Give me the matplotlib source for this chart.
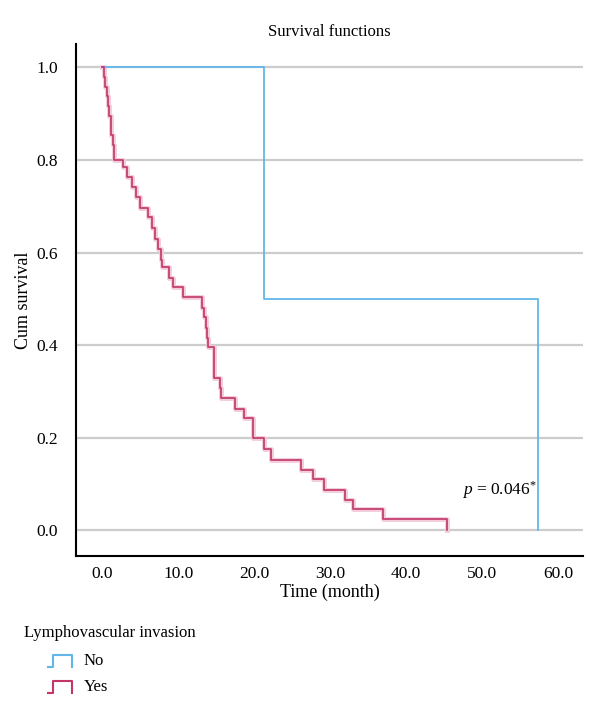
import matplotlib
matplotlib.use("Agg")
import matplotlib.pyplot as plt
from matplotlib.lines import Line2D

plt.rcParams['font.family'] = ['Liberation Serif', 'DejaVu Serif']
plt.rcParams['mathtext.fontset'] = 'custom'
plt.rcParams['mathtext.rm'] = 'Liberation Serif'
plt.rcParams['mathtext.it'] = 'Liberation Serif:italic'

# Kaplan-Meier steps (time in months, cum survival after the event)
no_times = [0.0, 21.3, 57.4]
no_surv = [1.0, 0.5, 0.0]

yes_times = [0.0, 0.2, 0.4, 0.6, 0.8, 0.9, 1.1, 1.2, 1.4, 1.5,
             2.8, 3.3, 3.9, 4.5, 5.0, 6.0, 6.6, 7.0, 7.4, 7.7,
             7.9, 8.8, 9.3, 10.6, 13.1, 13.4, 13.6, 13.8, 13.9, 14.7,
             15.5, 15.7, 17.5, 18.7, 19.8, 19.9, 21.3, 22.2, 26.1, 27.7,
             29.2, 31.9, 33.0, 36.9, 45.4]
yes_surv = [1.0, 0.979, 0.958, 0.938, 0.917, 0.896, 0.875, 0.854, 0.833, 0.80,
            0.785, 0.763, 0.741, 0.72, 0.697, 0.677, 0.654, 0.63, 0.607, 0.585,
            0.568, 0.546, 0.525, 0.503, 0.48, 0.46, 0.437, 0.415, 0.395, 0.328,
            0.307, 0.285, 0.263, 0.242, 0.221, 0.20, 0.175, 0.151, 0.131, 0.11,
            0.088, 0.066, 0.045, 0.024, 0.0]

x_ticks = [0, 10, 20, 30, 40, 50, 60]
y_ticks = [0.0, 0.2, 0.4, 0.6, 0.8, 1.0]

blue = '#62b6ea'
pink = '#c23669'
pink_light = '#f3cbd9'

fig = plt.figure(figsize=(6, 7.14), dpi=100)
ax = fig.add_axes([0.127, 0.221, 0.845, 0.717])

for y in y_ticks:
    ax.axhline(y, color='#cccccc', lw=1.6, zorder=0)

ax.step(no_times, no_surv, where='post', color=blue, lw=1.3, zorder=3)
ax.step(yes_times, yes_surv, where='post', color=pink_light, lw=3.5, zorder=2)
ax.step(yes_times, yes_surv, where='post', color=pink, lw=1.2, zorder=3)

ax.set_xlim(-3.42, 63.3)
ax.set_ylim(-0.056, 1.05)
ax.set_xticks(x_ticks)
ax.set_xticklabels(['%.1f' % v for v in x_ticks])
ax.set_yticks(y_ticks)
ax.set_yticklabels(['%.1f' % v for v in y_ticks])
ax.tick_params(length=0, labelsize=12.5)
ax.tick_params(axis='x', pad=7)
ax.tick_params(axis='y', pad=13)

for s in ['top', 'right']:
    ax.spines[s].set_visible(False)
for s in ['left', 'bottom']:
    ax.spines[s].set_linewidth(1.5)

ax.set_title('Survival functions', fontsize=12, pad=6)
ax.set_xlabel('Time (month)', fontsize=13, labelpad=1)
ax.set_ylabel('Cum survival', fontsize=13)
ax.yaxis.set_label_coords(-0.087, 0.5)

ax.text(47.3, 0.086, r'$p$ = 0.046$^{*}$', fontsize=12.5, va='center')

# legend below the plot
fig.text(24 / 600, 1 - 633 / 714, 'Lymphovascular invasion', fontsize=12, va='center')
for label, color, py in [('No', blue, 661), ('Yes', pink, 687)]:
    y0 = 1 - (py + 6) / 714
    y1 = 1 - (py - 6) / 714
    xs = [48 / 600, 53 / 600, 53 / 600, 72 / 600, 72 / 600]
    ys = [y0, y0, y1, y1, y0]
    fig.add_artist(Line2D(xs, ys, color=color, lw=1.5, transform=fig.transFigure))
    fig.text(84 / 600, 1 - py / 714, label, fontsize=12, va='center')

fig.savefig('out.png', dpi=100)
